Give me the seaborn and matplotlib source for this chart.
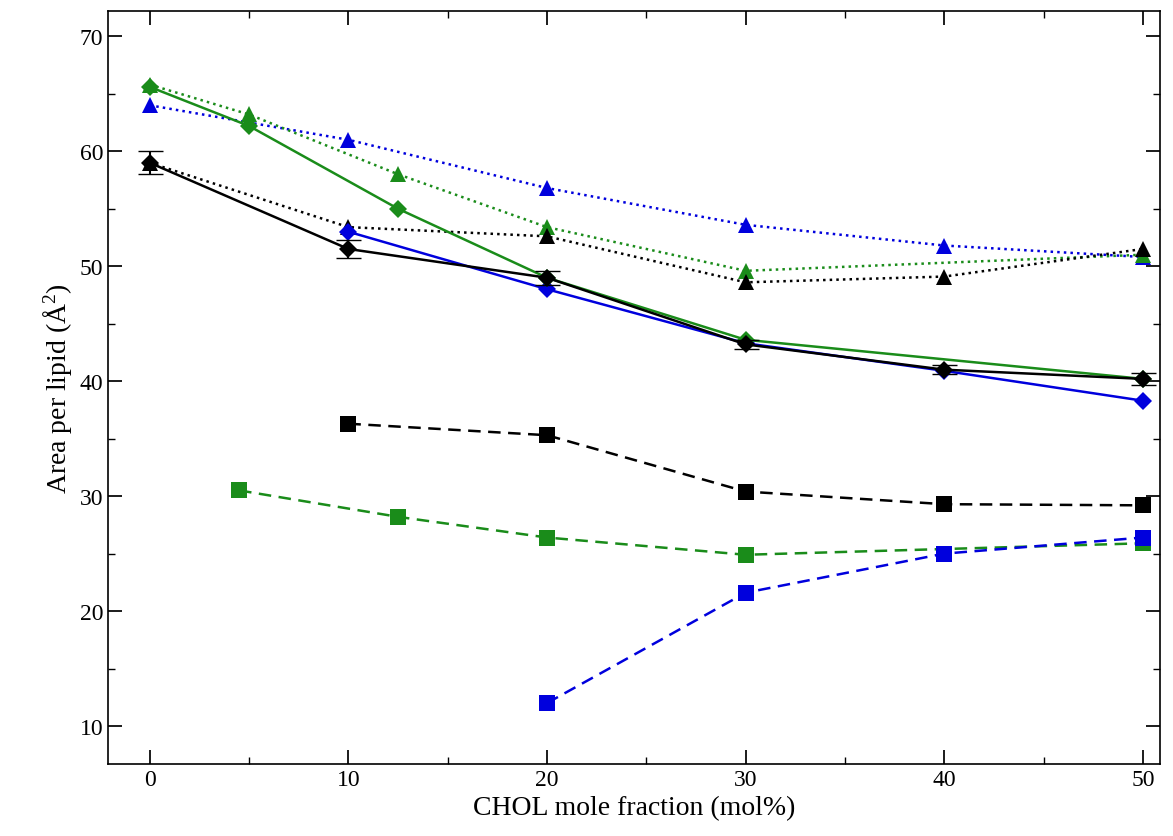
import matplotlib
matplotlib.use("Agg")
import matplotlib.pyplot as plt
import seaborn as sns
from matplotlib.ticker import MultipleLocator

sns.set_theme(style="ticks")
plt.rcParams['font.family'] = ['Liberation Serif', 'DejaVu Serif']

# triangles, dotted
tri_blue_x = [0, 10, 20, 30, 40, 50]
tri_blue_y = [64.0, 61.0, 56.8, 53.6, 51.8, 50.8]
tri_green_x = [0, 5, 12.5, 20, 30, 50]
tri_green_y = [65.8, 63.2, 58.0, 53.4, 49.6, 51.0]
tri_black_x = [0, 10, 20, 30, 40, 50]
tri_black_y = [59.0, 53.4, 52.6, 48.6, 49.1, 51.5]

# diamonds, solid
dia_blue_x = [10, 20, 30, 40, 50]
dia_blue_y = [53.0, 48.0, 43.3, 40.9, 38.3]
dia_green_x = [0, 5, 12.5, 20, 30, 50]
dia_green_y = [65.6, 62.2, 55.0, 49.0, 43.6, 40.2]
dia_black_x = [0, 10, 20, 30, 40, 50]
dia_black_y = [59.0, 51.5, 49.0, 43.2, 41.0, 40.2]
dia_black_err = [1.0, 0.8, 0.6, 0.4, 0.4, 0.5]

# squares, dashed
sq_black_x = [10, 20, 30, 40, 50]
sq_black_y = [36.3, 35.3, 30.4, 29.3, 29.2]
sq_green_x = [4.5, 12.5, 20, 30, 50]
sq_green_y = [30.5, 28.2, 26.4, 24.9, 25.9]
sq_blue_x = [20, 30, 40, 50]
sq_blue_y = [12.0, 21.6, 25.0, 26.4]

BLUE, GREEN, BLACK = '#0000dd', '#1a8c1a', 'black'

fig, ax = plt.subplots(figsize=(11.73, 8.37), dpi=100)

series = [
    (tri_blue_x, tri_blue_y, BLUE, ':', '^', 12),
    (tri_green_x, tri_green_y, GREEN, ':', '^', 12),
    (tri_black_x, tri_black_y, BLACK, ':', '^', 12),
    (sq_black_x, sq_black_y, BLACK, (0, (5, 3)), 's', 11),
    (sq_green_x, sq_green_y, GREEN, (0, (5, 3)), 's', 11),
    (sq_blue_x, sq_blue_y, BLUE, (0, (5, 3)), 's', 11),
    (dia_blue_x, dia_blue_y, BLUE, '-', 'D', 9),
    (dia_green_x, dia_green_y, GREEN, '-', 'D', 9),
    (dia_black_x, dia_black_y, BLACK, '-', 'D', 9),
]
for x, y, c, ls, m, ms in series:
    sns.lineplot(x=x, y=y, ax=ax, color=c, linestyle=ls, marker=m,
                 markersize=ms, markeredgewidth=0, linewidth=1.8)

ax.errorbar(dia_black_x, dia_black_y, yerr=dia_black_err, fmt='none',
            ecolor=BLACK, capsize=9, elinewidth=1.5)

ax.set_xlim(-2.1, 50.86)
ax.set_ylim(6.7, 72.2)
ax.xaxis.set_major_locator(MultipleLocator(10))
ax.xaxis.set_minor_locator(MultipleLocator(5))
ax.yaxis.set_major_locator(MultipleLocator(10))
ax.yaxis.set_minor_locator(MultipleLocator(5))
ax.tick_params(which='both', direction='in', top=True, right=True,
               labelsize=17, colors='black')
ax.tick_params(which='major', length=10)
ax.tick_params(which='minor', length=5)
for s in ax.spines.values():
    s.set_linewidth(1.2)
    s.set_color('black')

ax.set_xlabel('CHOL mole fraction (mol%)', fontsize=20, color='black')
ax.set_ylabel(r'Area per lipid ($\mathregular{\AA^2}$)', fontsize=20, color='black')

fig.subplots_adjust(left=108 / 1173, right=1160 / 1173, top=1 - 12 / 837, bottom=1 - 765 / 837)
fig.savefig('out.png', dpi=100)
